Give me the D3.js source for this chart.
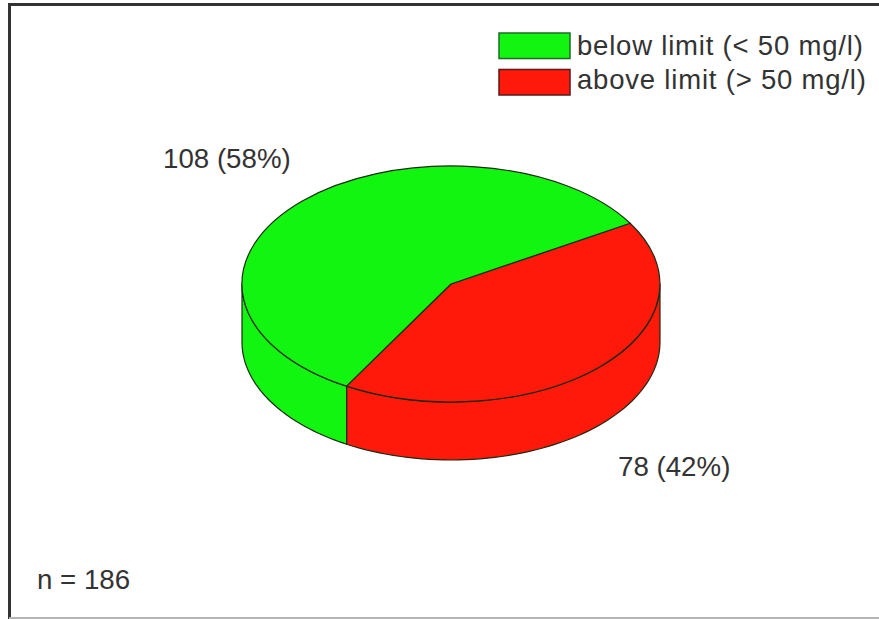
<!DOCTYPE html>
<html>
<head>
<meta charset="utf-8">
<script src="https://cdn.jsdelivr.net/npm/d3@7"></script>
<style>
  html, body { margin: 0; padding: 0; background: #fff; }
  svg { display: block; }
  text { font-family: "Liberation Sans", Arial, sans-serif; fill: #333; }
</style>
</head>
<body>
<svg id="chart"></svg>
<script>
// Counts per category and their labels.
const categories = ["below limit (< 50 mg/l)", "above limit (> 50 mg/l)"];
const counts = [108, 78];
const sliceLabels = ["108 (58%)", "78 (42%)"];
const sampleLabel = "n = 186";
const colors = ["#12f510", "#ff190a"];

const width = 879, height = 619;
const cx = 451, cy = 284, rx = 209, ry = 118, depth = 58;
const outline = "#1c2a12";

const svg = d3.select("#chart").attr("width", width).attr("height", height);

// Plot frame: open on the right, the bottom edge is lighter.
svg.append("path")
    .attr("d", `M${width},4.5H9.5V${height}`)
    .attr("fill", "none")
    .attr("stroke", "#333")
    .attr("stroke-width", 3);
svg.append("line")
    .attr("x1", 9).attr("x2", width)
    .attr("y1", 618).attr("y2", 618)
    .attr("stroke", "#b5b5b5")
    .attr("stroke-width", 2);

// The red slice starts at 59 degrees clockwise from the top, the green one follows it.
const startAngle = 59 * Math.PI / 180;
const pie = d3.pie().sort(null).value(d => d)
    .startAngle(startAngle)
    .endAngle(startAngle + 2 * Math.PI);
const slices = pie([counts[1], counts[0]]);
const sliceColors = [colors[1], colors[0]];

// Angle on the tilted disc -> screen position.
const px = a => cx + rx * Math.sin(a);
const py = a => cy - ry * Math.cos(a);

// Side wall of the disc between two angles, following the rim and its lower copy.
function wallPath(a0, a1) {
    const angles = d3.range(0, 61).map(i => a0 + (a1 - a0) * i / 60);
    const top = angles.map(a => [px(a), py(a)]);
    const bottom = angles.slice().reverse().map(a => [px(a), py(a) + depth]);
    return d3.line()(top.concat(bottom)) + "Z";
}

// Only the front half of the rim has a visible wall (90 to 270 degrees).
const front = [Math.PI / 2, 3 * Math.PI / 2];
const wall = svg.append("g");
slices.forEach((s, i) => {
    const a0 = Math.max(s.startAngle, front[0]);
    const a1 = Math.min(s.endAngle, front[1]);
    if (a1 <= a0) return;
    wall.append("path")
        .attr("d", wallPath(a0, a1))
        .attr("fill", sliceColors[i])
        .attr("stroke", outline)
        .attr("stroke-width", 1.2)
        .attr("stroke-linejoin", "round");
});

// Top face: a unit pie squashed into an ellipse.
const arc = d3.arc().innerRadius(0).outerRadius(1);
svg.append("g")
    .attr("transform", `translate(${cx},${cy}) scale(${rx},${ry})`)
    .selectAll("path")
    .data(slices)
    .enter()
    .append("path")
    .attr("d", arc)
    .attr("fill", (d, i) => sliceColors[i])
    .attr("stroke", outline)
    .attr("stroke-width", 1.2)
    .attr("stroke-linejoin", "round")
    .attr("vector-effect", "non-scaling-stroke");

// Slice labels.
svg.append("text").attr("x", 163).attr("y", 168)
    .attr("font-size", 27.7).text(sliceLabels[0]);
svg.append("text").attr("x", 618).attr("y", 475.5)
    .attr("font-size", 27.7).text(sliceLabels[1]);

// Legend.
const legendY = d3.scaleBand().domain(categories).range([33, 95]).paddingInner(0.3);
const legend = svg.append("g").selectAll("g")
    .data(categories)
    .enter()
    .append("g");
legend.append("rect")
    .attr("x", 499)
    .attr("y", d => legendY(d))
    .attr("width", 71)
    .attr("height", legendY.bandwidth())
    .attr("fill", (d, i) => colors[i])
    .attr("stroke", (d, i) => i ? "#5a1a1a" : "#1f6b2a")
    .attr("stroke-width", 1.5);
legend.append("text")
    .attr("x", 577)
    .attr("y", (d, i) => legendY(d) + (i ? 20 : 22))
    .attr("font-size", 27.5)
    .attr("letter-spacing", 0.8)
    .text(d => d);

// Sample size.
svg.append("text").attr("x", 37).attr("y", 588.5)
    .attr("font-size", 27.7).text(sampleLabel);
</script>
</body>
</html>
